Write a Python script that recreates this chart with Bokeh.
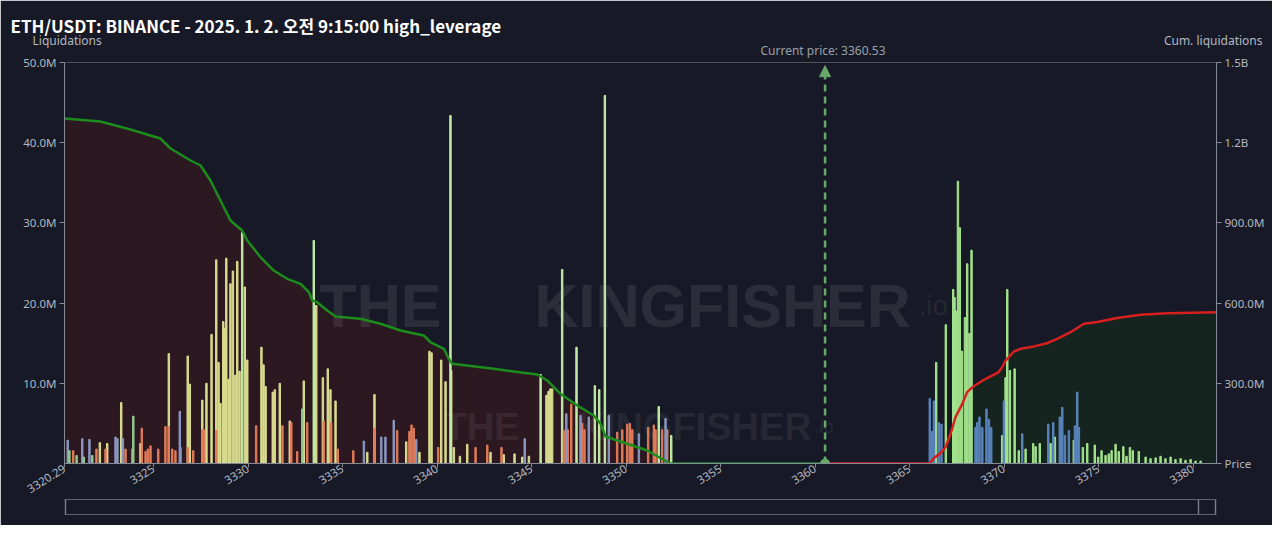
from bokeh.plotting import figure
from bokeh.models import (Range1d, LinearAxis, FixedTicker, Label, Arrow,
                          NormalHead, Title)
from bokeh.embed import file_html
from bokeh.resources import INLINE

# ---------------- data ----------------
title_text = "ETH/USDT: BINANCE - 2025. 1. 2. 오전 9:15:00 high_leverage"
current_price = 3360.53

x_ticks = [3320.29, 3325, 3330, 3335, 3340, 3345, 3350, 3355, 3360, 3365, 3370, 3375, 3380]
x_tick_labels = ["3320.29", "3325", "3330", "3335", "3340", "3345", "3350", "3355", "3360",
                 "3365", "3370", "3375", "3380"]
liq_ticks = [10, 20, 30, 40, 50]
liq_tick_labels = ["10.0M", "20.0M", "30.0M", "40.0M", "50.0M"]
cum_ticks = [0, 300, 600, 900, 1200, 1500]
cum_tick_labels = ["Price", "300.0M", "600.0M", "900.0M", "1.2B", "1.5B"]

# liquidation bars (price, value in millions)
yellow_price = [3322.16, 3322.55, 3323.29, 3324.31, 3325.81, 3326.81, 3326.92, 3327.58, 3327.80,
                3328.07, 3328.32, 3328.44, 3328.54, 3328.69, 3328.76, 3328.85, 3328.97, 3329.07,
                3329.20, 3329.31, 3329.43, 3329.55, 3329.83, 3329.96, 3330.71, 3330.82, 3330.93,
                3331.31, 3331.42, 3331.68, 3332.21, 3332.95, 3333.61, 3333.96, 3334.22, 3334.36,
                3334.63, 3336.69, 3338.37, 3339.60, 3339.71, 3340.22, 3340.45, 3340.75, 3345.79,
                3345.90, 3346.00, 3346.09, 3336.31, 3339.07, 3340.89, 3341.21, 3341.60, 3342.83,
                3343.53, 3344.10, 3344.51, 3344.86]
yellow_value = [2.6, 2.5, 7.6, 2.5, 13.7, 13.4, 9.9, 7.9, 10.0,
                16.1, 25.4, 12.6, 7.5, 17.7, 16.8, 25.6, 10.5, 22.4,
                24.0, 11.0, 25.2, 11.5, 22.0, 12.9, 14.5, 12.3, 9.6,
                8.9, 9.2, 10.0, 5.3, 10.3, 19.7, 10.7, 11.8, 9.2,
                7.8, 8.6, 2.7, 14.0, 13.8, 12.9, 10.2, 11.6, 8.5,
                9.0, 9.3, 9.3, 1.4, 1.4, 2.0, 0.9, 2.4, 1.4,
                1.1, 1.2, 0.8, 0.9]

pale_price = [3329.69, 3333.48, 3340.71, 3345.48, 3346.62, 3347.38, 3348.35, 3348.58, 3348.88,
              3351.73, 3352.39]
pale_value = [28.8, 27.8, 43.4, 11.1, 24.2, 14.5, 9.7, 9.2, 45.9, 7.1, 3.5]

sage_price = [3320.55, 3320.93, 3321.31, 3321.76, 3323.93, 3332.87]
sage_value = [1.6, 1.0, 0.8, 1.0, 5.9, 6.8]

orange_price = [3320.75, 3321.98, 3322.46, 3323.52, 3323.87, 3324.38, 3324.58, 3324.70, 3324.84,
                3325.25, 3325.63, 3325.81, 3325.99, 3326.16, 3326.43, 3326.81, 3327.10, 3327.58,
                3327.66, 3328.32, 3330.43, 3331.82, 3332.29, 3332.60, 3333.13, 3334.01, 3334.40,
                3334.75, 3335.57, 3336.69, 3337.89, 3338.54, 3338.65, 3338.77, 3340.06, 3342.04,
                3342.66, 3343.41, 3346.71, 3346.92, 3347.10, 3347.68, 3347.80, 3349.53, 3349.80,
                3350.06, 3350.20, 3350.33, 3351.17, 3351.47, 3351.56, 3351.91, 3352.18]
orange_value = [1.6, 1.8, 1.8, 1.8, 1.8, 4.4, 1.5, 1.8, 2.2,
                1.8, 4.6, 4.6, 1.8, 1.6, 2.0, 2.0, 1.6, 4.2,
                4.2, 4.1, 4.7, 4.7, 5.1, 1.5, 5.1, 5.3, 5.1,
                1.8, 1.6, 4.4, 4.1, 4.0, 4.8, 4.4, 2.0, 2.0,
                2.3, 2.0, 4.1, 4.2, 7.4, 5.0, 4.2, 3.9, 4.2,
                4.9, 5.0, 4.2, 4.5, 4.8, 4.2, 4.2, 4.2]

slate_price = [3320.46, 3321.23, 3321.61, 3322.99, 3323.09, 3323.38, 3326.39, 3336.13, 3337.05,
               3337.27, 3337.71, 3338.90, 3344.64, 3346.84, 3347.59, 3348.03, 3349.09, 3350.68,
               3352.09]
slate_value = [2.9, 3.1, 3.0, 3.3, 3.1, 3.1, 6.5, 2.8, 3.3,
               3.3, 5.4, 3.0, 3.1, 6.2, 6.0, 5.8, 6.0, 3.7,
               5.6]

blue_price = [3366.07, 3366.20, 3366.29, 3366.55, 3366.69, 3368.49, 3368.58, 3368.70, 3368.85,
              3369.07, 3369.20, 3369.32, 3369.99, 3370.96, 3372.34, 3372.60, 3372.95, 3373.08,
              3373.22, 3373.43, 3373.75, 3373.87, 3373.96]
blue_value = [8.1, 4.0, 7.8, 5.1, 4.9, 4.5, 5.1, 5.8, 4.5,
              6.8, 5.5, 4.5, 7.8, 3.7, 4.9, 5.1, 5.8, 7.0,
              3.5, 4.1, 4.7, 8.9, 4.5]

green_price = [3366.41, 3366.92, 3367.31, 3367.38, 3367.47, 3367.56, 3367.66, 3367.77, 3367.93,
               3368.05, 3368.17, 3368.28, 3369.90, 3370.08, 3370.17, 3370.31, 3370.56, 3370.78,
               3371.14, 3371.54, 3371.67, 3371.89, 3372.46, 3372.69, 3373.69, 3374.17, 3374.40,
               3374.80, 3374.98, 3375.16, 3375.37, 3375.54, 3375.69, 3375.90, 3376.07, 3376.31,
               3376.48, 3376.66, 3376.81, 3377.13, 3377.49, 3377.75, 3378.02, 3378.28, 3378.54,
               3378.81, 3379.07, 3379.34, 3379.60, 3379.87, 3380.13, 3380.40]
green_value = [12.6, 17.3, 21.7, 20.7, 19.0, 35.2, 29.4, 14.0, 18.2,
               24.9, 16.2, 26.6, 3.5, 10.7, 21.7, 11.6, 11.8, 1.6,
               1.8, 2.5, 2.1, 2.5, 2.5, 3.3, 2.9, 2.0, 2.5,
               2.3, 0.8, 1.6, 1.0, 1.2, 1.6, 2.4, 1.5, 2.1,
               0.9, 2.0, 1.6, 1.5, 0.8, 0.6, 0.7, 0.9, 0.6,
               0.8, 0.5, 0.6, 0.4, 0.5, 0.3, 0.3]

# cumulative liquidations (millions)
cum_long_price = [3320.29, 3322.19, 3323.78, 3324.84, 3325.37, 3325.90, 3326.96, 3327.49, 3328.01,
                  3328.54, 3329.07, 3329.69, 3329.96, 3330.66, 3331.36, 3332.07, 3332.78, 3333.22,
                  3333.40, 3333.66, 3334.19, 3334.63, 3335.95, 3337.01, 3338.07, 3339.30, 3339.65,
                  3340.36, 3340.62, 3340.80, 3343.00, 3345.30, 3345.83, 3346.53, 3347.42, 3348.29,
                  3348.65, 3348.91, 3350.06, 3351.12, 3352.35, 3360.53]
cum_long_value = [1290.5, 1279.3, 1249.4, 1226.9, 1215.7, 1178.3, 1133.4, 1114.7, 1058.6,
                  983.8, 909.0, 871.6, 834.2, 771.7, 721.9, 690.9, 672.2, 640.8,
                  609.7, 603.4, 572.3, 549.9, 541.3, 522.6, 497.5, 478.8, 453.7,
                  429.1, 391.6, 372.9, 354.2, 332.9, 310.5, 260.7, 217.0, 179.6,
                  148.5, 101.0, 73.7, 48.6, 0.0, 0.0]

cum_short_price = [3360.53, 3366.07, 3366.29, 3366.60, 3366.90, 3367.17, 3367.43, 3367.79, 3368.05,
                   3368.32, 3368.93, 3369.72, 3369.90, 3370.08, 3370.52, 3370.87, 3371.58, 3372.28,
                   3372.81, 3373.52, 3374.22, 3374.93, 3375.99, 3377.22, 3378.63, 3381.24]
cum_short_value = [0, 0, 21, 36, 61, 111, 173, 223, 267,
                   285, 313, 342, 360, 385, 419, 429, 438, 450,
                   466, 491, 523, 529, 544, 556, 562, 566]

# ---------------- styling ----------------
BG = "#171a26"
AXIS = "#858a97"
TXT = "#b3b7c1"
SLIDER = "#5d6270"
FONT = "Noto Sans"
X0, X1 = 3320.29, 3381.24

p = figure(width=1272, height=525, output_backend="svg", toolbar_location=None,
           x_range=Range1d(X0, X1), y_range=Range1d(0, 50),
           min_border_left=64, min_border_right=56, min_border_top=62, min_border_bottom=62,
           background_fill_color=BG, border_fill_color=BG, outline_line_color=None)
p.extra_y_ranges = {"cum": Range1d(0, 1500)}
p.grid.visible = False

# texts above the plot area (first added = nearest the frame, main title outermost)
t_kw = dict(vertical_align="bottom", text_font=FONT, text_font_style="normal",
            text_font_size="12px")
p.add_layout(Title(text=f"Current price: {current_price}", align="left", offset=696,
                   standoff=8, text_color="#9aa0ab", **t_kw), "above")
p.add_layout(Title(text="Cum. liquidations", align="right", offset=-46,
                   standoff=-26, text_color=TXT, **t_kw), "above")
p.add_layout(Title(text="Liquidations", align="left", offset=-32,
                   standoff=-26, text_color=TXT, **t_kw), "above")
p.title.text = title_text
p.title.align = "left"
p.title.offset = -54
p.title.standoff = -5
p.title.text_color = "#ffffff"
p.title.text_font = "Noto Sans CJK KR"
p.title.text_font_style = "bold"
p.title.text_font_size = "17px"

right_axis = LinearAxis(y_range_name="cum")
p.add_layout(right_axis, "right")

for ax in [p.xaxis[0], p.yaxis[0], right_axis]:
    ax.axis_line_color = AXIS
    ax.major_tick_line_color = AXIS
    ax.minor_tick_line_color = None
    ax.major_tick_in = 0
    ax.major_tick_out = 5
    ax.major_label_text_color = TXT
    ax.major_label_text_font = FONT
    ax.major_label_text_font_size = "11.5px"
    ax.major_label_standoff = 3
p.xaxis[0].major_tick_out = 4
p.xaxis[0].major_label_standoff = 0

p.xaxis[0].ticker = FixedTicker(ticks=x_ticks)
p.xaxis[0].major_label_overrides = dict(zip(x_ticks, x_tick_labels))
p.xaxis[0].major_label_orientation = 0.56
p.yaxis[0].ticker = FixedTicker(ticks=liq_ticks)
p.yaxis[0].major_label_overrides = dict(zip(liq_ticks, liq_tick_labels))
right_axis.ticker = FixedTicker(ticks=cum_ticks)
right_axis.major_label_overrides = dict(zip(cum_ticks, cum_tick_labels))

# data-zoom slider look: top and bottom edges as two bare axis lines,
# side edges and the handle edge as ticks of the lower one
edge_ticks = [X0 + 0.03, X1 - 0.03]
handle_ticks = edge_ticks + [X1 - 0.95]
top_edge = LinearAxis(ticker=FixedTicker(ticks=edge_ticks), axis_line_color=SLIDER,
                      axis_line_width=1.2, major_tick_out=15, major_tick_in=0,
                      major_tick_line_color=BG, minor_tick_line_color=None,
                      major_label_text_font_size="0px",
                      major_label_overrides={t: "" for t in edge_ticks})
bottom_edge = LinearAxis(ticker=FixedTicker(ticks=handle_ticks), axis_line_color=SLIDER,
                         axis_line_width=1.2, major_tick_out=0, major_tick_in=15,
                         major_tick_line_color="#7a7f8c", major_tick_line_width=1.4,
                         minor_tick_line_color=None, major_label_text_font_size="0px",
                         major_label_overrides={t: "" for t in handle_ticks})
p.add_layout(top_edge, "below")
p.add_layout(bottom_edge, "below")

# cumulative areas
a1 = p.varea(x=cum_long_price, y1=0, y2=cum_long_value, fill_color="#2c1821",
             y_range_name="cum")
a2 = p.varea(x=cum_short_price, y1=0, y2=cum_short_value, fill_color="#16241f",
             y_range_name="cum")
a1.level = "image"
a2.level = "image"

# watermark
for txt, xx, yy, size in [("THE", 3333.78, 19.7, "61px"), ("KINGFISHER", 3345.16, 19.7, "61px"),
                          ("THE", 3340.34, 4.5, "38px"), ("KINGFISHER", 3347.43, 4.5, "38px"),
                          (".io", 3365.47, 19.7, "28px"), (".io", 3359.97, 4.5, "18px")]:
    p.add_layout(Label(x=xx, y=yy, text=txt, text_font_size=size, text_color="white",
                       text_alpha=0.085, text_font="Liberation Sans",
                       text_font_style="normal" if txt == ".io" else "bold",
                       text_baseline="alphabetic", level="underlay"))

# bars
W = 0.075
p.vbar(x=yellow_price, top=yellow_value, width=W, color="#d9dc8e")
p.vbar(x=pale_price, top=pale_value, width=W, color="#c4eba6")
p.vbar(x=green_price, top=green_value, width=W, color="#a3e28c")
p.vbar(x=orange_price, top=orange_value, width=W, color="#e07b58")
p.vbar(x=slate_price, top=slate_value, width=W, color="#8b97c2")
p.vbar(x=sage_price, top=sage_value, width=W, color="#8fc98a")
p.vbar(x=blue_price, top=blue_value, width=W, color="#5a84bc")

# cumulative lines
p.line(cum_long_price, cum_long_value, line_color="#1c8c1c", line_width=2.5, y_range_name="cum")
p.line(cum_short_price, cum_short_value, line_color="#d81f1f", line_width=2.5, y_range_name="cum")

# current price marker
p.add_layout(Arrow(end=NormalHead(size=11, fill_color="#6aa86a", line_color="#6aa86a"),
                   x_start=current_price, y_start=0, x_end=current_price, y_end=49.6,
                   line_color="#6aa86a", line_width=2.5, line_dash="7 5"))
p.scatter([current_price], [0], size=9, color="#6aa86a")

open("out.html", "w").write(file_html(p, INLINE))
